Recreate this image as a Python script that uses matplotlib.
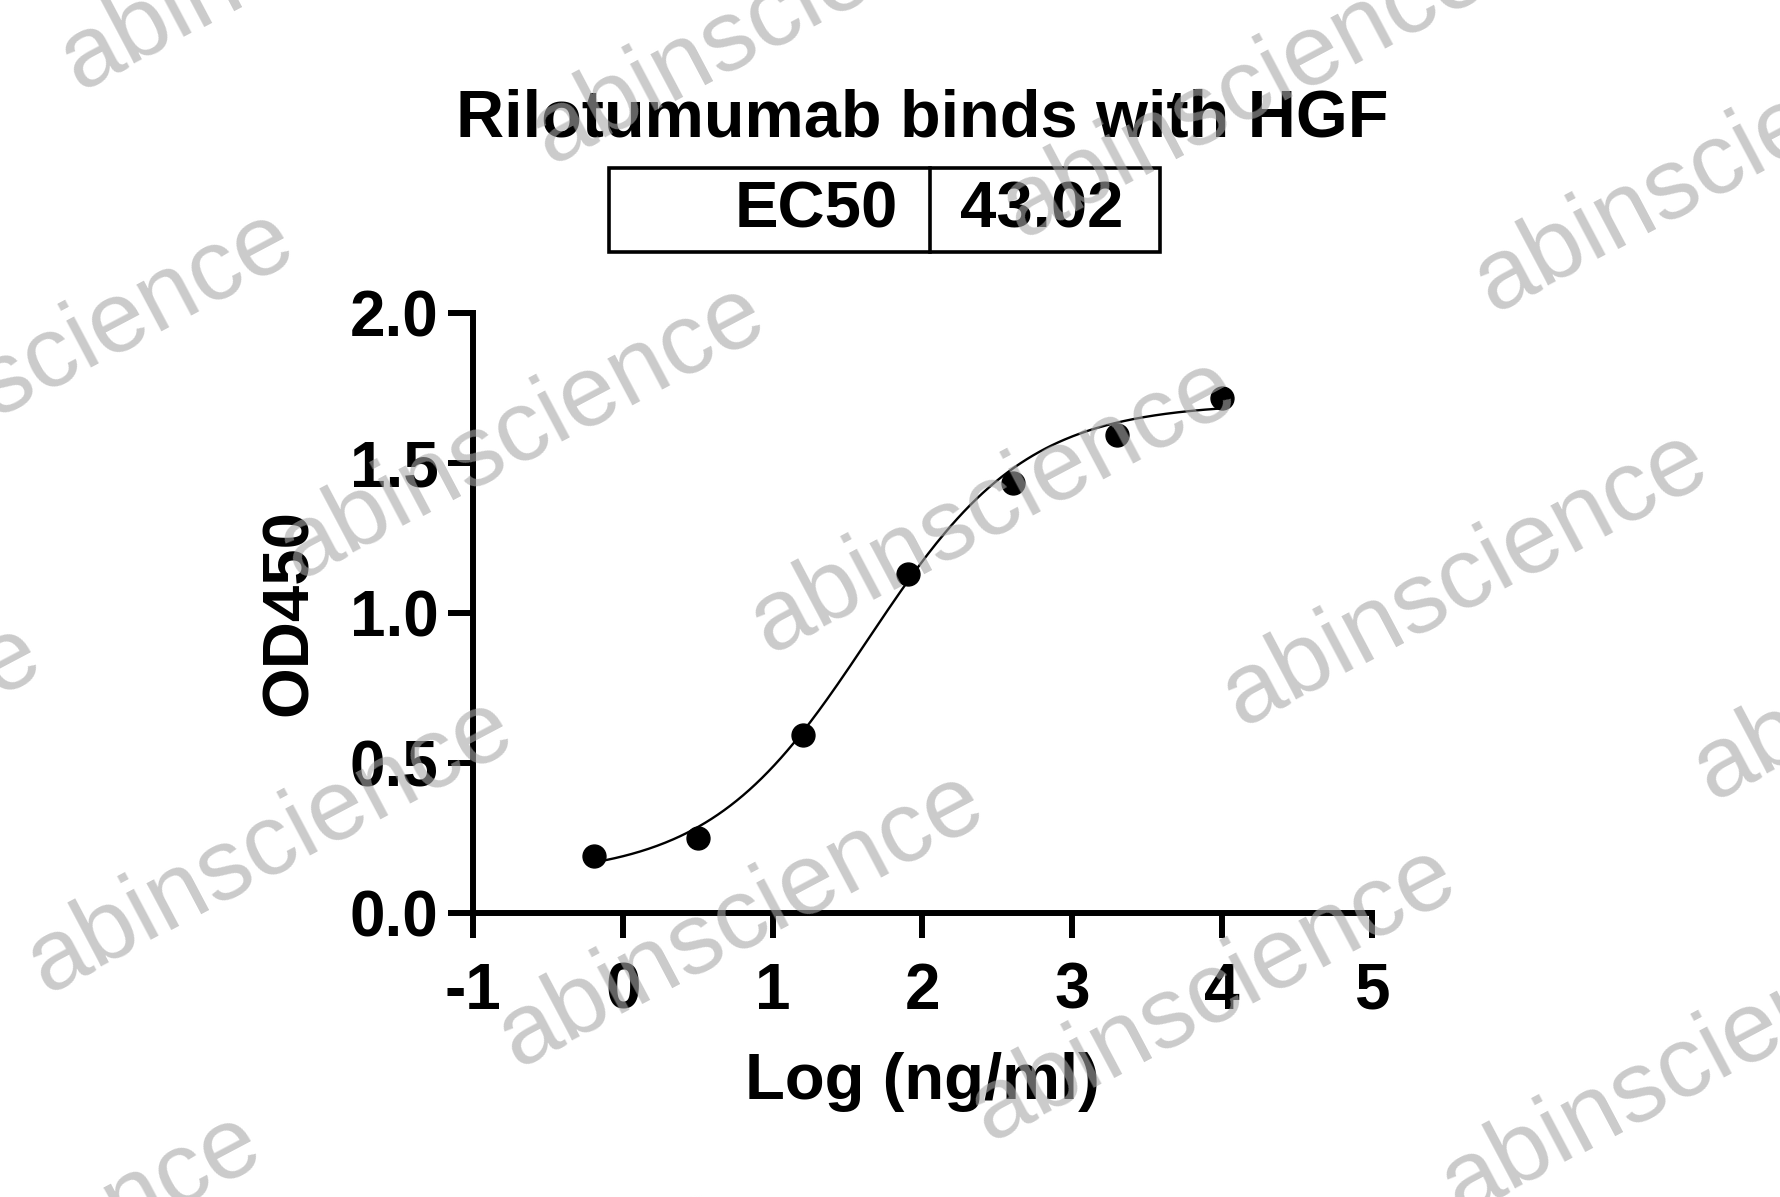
import numpy as np
import matplotlib.pyplot as plt
from matplotlib.lines import Line2D
from matplotlib.patches import Rectangle

# ELISA readout, 5-fold dilution from 10000 ng/ml
log_conc = [4.0, 3.301, 2.602, 1.903, 1.204, 0.505, -0.194]
od450 = [1.716, 1.595, 1.432, 1.129, 0.595, 0.250, 0.189]

ec50 = 43.02
# 4PL parameters
bottom, top, hill = 0.12, 1.70, 0.82

x_ticks = [-1, 0, 1, 2, 3, 4, 5]
y_ticks = [0.0, 0.5, 1.0, 1.5, 2.0]

plt.rcParams['font.family'] = ['Liberation Sans', 'DejaVu Sans']
plt.rcParams['font.weight'] = 'bold'

W, H = 1781, 1197
fig = plt.figure(figsize=(W / 100, H / 100), dpi=100)
ax = fig.add_axes([473 / W, 1 - 913 / H, (1372 - 473) / W, (913 - 313) / H])


def four_pl(x):
    return bottom + (top - bottom) / (1 + 10 ** ((np.log10(ec50) - x) * hill))


xs = np.linspace(min(log_conc), max(log_conc), 300)
ax.plot(xs, four_pl(xs), color='black', lw=1.7, zorder=3)
ax.plot(log_conc, od450, 'o', color='black', ms=16.5, zorder=4, clip_on=False)

ax.set_xlim(-1, 5)
ax.set_ylim(0, 2.0)
ax.set_xticks(x_ticks)
ax.set_yticks(y_ticks)
ax.set_xticklabels([str(t) for t in x_ticks])
ax.set_yticklabels(['%.1f' % t for t in y_ticks])
for s in ['top', 'right']:
    ax.spines[s].set_visible(False)
for s in ['left', 'bottom']:
    ax.spines[s].set_linewidth(4.3)
ax.tick_params(width=4.3, length=18, pad=7, labelsize=46)
ax.tick_params(axis='x', pad=17)
for lab in ax.get_xticklabels() + ax.get_yticklabels():
    lab.set_fontweight('bold')

ax.set_xlabel('Log (ng/ml)', fontsize=47, fontweight='bold', labelpad=22)
ax.set_ylabel('OD450', fontsize=47, fontweight='bold', labelpad=21)

fig.text(0.518, 0.9005, 'Rilotumumab binds with HGF', ha='center', va='center',
         fontsize=48, fontweight='bold')

# EC50 box
x0, xd, x1 = 609 / W, 930 / W, 1160 / W
y0, y1 = 1 - 252 / H, 1 - 168 / H
fig.add_artist(Rectangle((x0, y0), x1 - x0, y1 - y0, transform=fig.transFigure,
                         fill=False, lw=2.6, edgecolor='black'))
fig.add_artist(Line2D([xd, xd], [y0, y1], transform=fig.transFigure, lw=2.6, color='black'))
fig.text(0.504, (y0 + y1) / 2, 'EC50', ha='right', va='center', fontsize=47, fontweight='bold')
fig.text(0.539, (y0 + y1) / 2, '%.2f' % ec50, ha='left', va='center', fontsize=47,
         fontweight='bold')

# watermark grid
k = W / 1568
ox, oy = 460 * k, 380 * k
ax_, ay_ = 415 * k, 65 * k
bx_, by_ = -222 * k, 365 * k
for i in range(-3, 6):
    for j in range(-2, 4):
        cx = ox + i * ax_ + j * bx_
        cy = oy + i * ay_ + j * by_
        if -350 < cx < W + 350 and -200 < cy < H + 200:
            fig.text(cx / W, 1 - cy / H, 'abinscience', ha='center', va='center',
                     rotation=27.9, rotation_mode='anchor', fontsize=73,
                     fontweight='normal', color='#a8a8a8', alpha=0.6, zorder=10)

fig.savefig('out.png', dpi=100)
